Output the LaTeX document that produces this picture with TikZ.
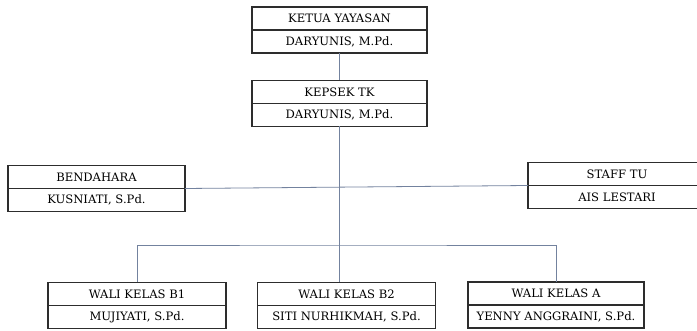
\documentclass[tikz,border=0pt]{standalone}
\usepackage{fontspec}
\setmainfont{DejaVu Serif}
\usetikzlibrary{positioning}
\definecolor{linkblue}{RGB}{115,130,158}
\definecolor{boxline}{RGB}{45,45,45}

\begin{document}
\begin{tikzpicture}[x=1pt,y=-1pt,
    jabatan/.style={draw=boxline, line width=1.3pt, minimum height=23pt,
      inner sep=0pt, outer sep=0pt, font=\fontsize{11.6}{13}\selectfont},
    garis/.style={draw=linkblue, line width=0.8pt}]
  \useasboundingbox (0,0) rectangle (697,331);
  \clip (0,0) rectangle (697,331);
  % pimpinan
  \node[jabatan, minimum width=175pt] (yayasan) at (339.5,18.5) {KETUA YAYASAN};
  \node[jabatan, minimum width=175pt, below=0pt of yayasan] (yayasanN) {DARYUNIS, M.Pd.};
  \node[jabatan, minimum width=175pt] (kepsek) at (339.5,92) {KEPSEK TK};
  \node[jabatan, minimum width=175pt, below=0pt of kepsek] (kepsekN) {DARYUNIS, M.Pd.};
  % staf
  \node[jabatan, minimum width=177pt] (bendahara) at (96.5,177) {BENDAHARA};
  \node[jabatan, minimum width=177pt, below=0pt of bendahara] (bendaharaN) {KUSNIATI, S.Pd.};
  \node[jabatan, minimum width=178pt] (staff) at (617,174) {STAFF TU};
  \node[jabatan, minimum width=178pt, below=0pt of staff] (staffN) {AIS LESTARI};
  % wali kelas
  \node[jabatan, minimum width=178pt] (b1) at (137,294) {WALI KELAS B1};
  \node[jabatan, minimum width=178pt, below=0pt of b1] (b1N) {MUJIYATI, S.Pd.};
  \node[jabatan, minimum width=178pt] (b2) at (346.5,294) {WALI KELAS B2};
  \node[jabatan, minimum width=178pt, below=0pt of b2] (b2N) {SITI NURHIKMAH, S.Pd.};
  \node[jabatan, minimum width=176pt] (kelasA) at (556,293.5) {WALI KELAS A};
  \node[jabatan, minimum width=176pt, below=0pt of kelasA] (kelasAN) {YENNY ANGGRAINI, S.Pd.};
  % garis
  \coordinate (bus) at (kepsekN.south |- 0,245);
  \draw[garis] (yayasanN.north |- yayasanN.south) -- (kepsek.north);
  \draw[garis] (bendahara.south east) -- (staff.south west);
  \draw[garis] (kepsekN.south) -- (kepsekN.south |- b2.north);
  \draw[garis] (b1.north) |- (bus) -| (kelasA.north);
\end{tikzpicture}
\end{document}
